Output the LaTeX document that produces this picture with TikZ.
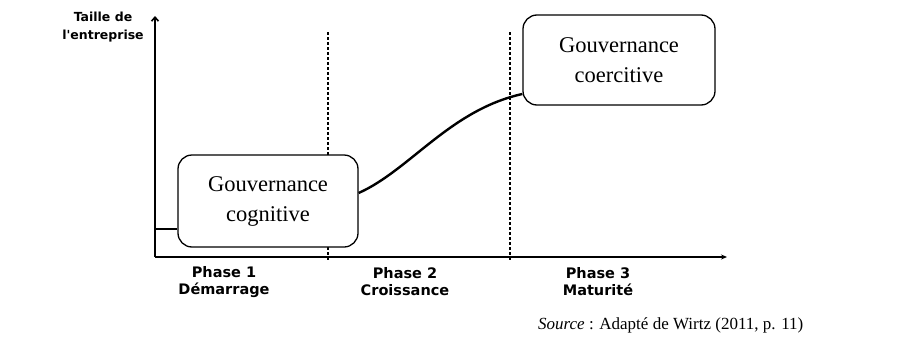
\documentclass[tikz,border=0pt]{standalone}
\usepackage{fontspec}
\setmainfont{Liberation Serif}
\newfontfamily\labfont{DejaVu Sans}
\usetikzlibrary{arrows.meta,calc}
\begin{document}
\begin{tikzpicture}[x=1pt,y=-1pt,
  govbox/.style={draw,fill=white,line width=1.3pt,rounded corners=14pt,inner sep=0pt,align=center,font=\fontsize{22.5}{30}\selectfont},
  axisline/.style={line width=1.6pt},
  phaselbl/.style={font=\labfont\bfseries\fontsize{14.5}{17}\selectfont,align=center,inner sep=0pt},
  sepline/.style={line width=1.3pt,dash pattern=on 3pt off 2pt},
  trend/.style={line width=2.4pt}]
\useasboundingbox (0,0) rectangle (921,343);
% axes
\coordinate (o) at (155,257);
\coordinate (ytop) at (155,16);
\coordinate (xend) at (727,257);
\draw[axisline,-{Straight Barb[length=4pt,width=7pt]}] (o) -- (ytop);
\draw[axisline,-{Stealth[length=6pt,width=5pt]}] (o) -- (xend);
% separators
\coordinate (s1t) at (328,32);
\coordinate (s1b) at (328,261);
\coordinate (s2t) at (510,32);
\coordinate (s2b) at (510,261);
\draw[sepline] (s1t) -- (s1b);
\draw[sepline] (s2t) -- (s2b);
% boxes
\node[govbox,minimum width=180pt,minimum height=92pt] (cog) at (268,201) {Gouvernance\\cognitive};
\node[govbox,minimum width=192pt,minimum height=90pt] (coe) at (619,60) {Gouvernance\\coercitive};
% trend
\coordinate (ystart) at (155,229);
\draw[trend] (ystart) -- (cog.west |- ystart);
\coordinate (c0) at (cog.east |- 0,193);
\coordinate (c3) at (coe.west |- 0,94);
\draw[trend] (c0) .. controls (410,170) and (450,110) .. (c3);
% axis labels
\node[font=\labfont\bfseries\fontsize{12.5}{18}\selectfont,align=center,inner sep=0pt] (ylab) at (103,27) {Taille de\\l'entreprise};
\node[phaselbl] (p1) at (224,282) {Phase 1\\Démarrage};
\node[phaselbl] (p2) at (405,282) {Phase 2\\Croissance};
\node[phaselbl] (p3) at (598,282) {Phase 3\\Maturité};
\node[anchor=west,inner sep=0pt,font=\fontsize{17}{20}\selectfont] (src) at (538,325) {\textit{Source} : Adapté de Wirtz (2011, p. 11)};
\end{tikzpicture}
\end{document}
